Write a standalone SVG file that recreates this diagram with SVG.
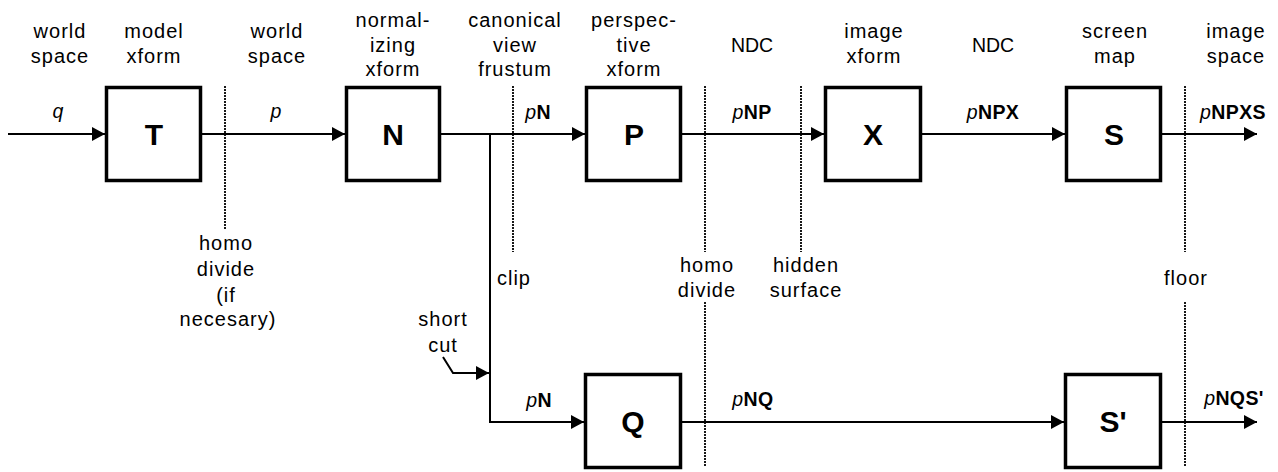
<svg xmlns="http://www.w3.org/2000/svg" width="1278" height="472" viewBox="0 0 1278 472">
<style>
text{font-family:"Liberation Sans",Arial,sans-serif;fill:#000}
.lbl{font-size:20px;letter-spacing:1px;text-anchor:middle}
.ndc{font-size:19.5px;text-anchor:middle}
.el{font-size:19.5px;letter-spacing:0.4px;text-anchor:middle}
.el .i{font-style:italic}
.el .b{font-weight:bold}
.box rect{fill:#fff;stroke:#000;stroke-width:3.5}
.box text{font-size:30px;font-weight:bold;text-anchor:middle}
.wire{fill:none;stroke:#000;stroke-width:2}
.dot{fill:none;stroke:#000;stroke-width:1.8;stroke-dasharray:2 1}
</style>
<defs>
<marker id="ah" markerUnits="userSpaceOnUse" markerWidth="13" markerHeight="14" refX="13" refY="7" orient="auto">
<path d="M0,0 L13,7 L0,14 z" fill="#000"/>
</marker>
</defs>

<g id="top-labels">
<text class="lbl" x="60" y="38">world</text><text class="lbl" x="60" y="63">space</text>
<text class="lbl" x="154" y="38">model</text><text class="lbl" x="154" y="63">xform</text>
<text class="lbl" x="277" y="38">world</text><text class="lbl" x="277" y="63">space</text>
<text class="lbl" x="393" y="27">normal-</text><text class="lbl" x="393" y="52">izing</text><text class="lbl" x="393" y="76">xform</text>
<text class="lbl" x="515" y="27">canonical</text><text class="lbl" x="515" y="52">view</text><text class="lbl" x="515" y="76">frustum</text>
<text class="lbl" x="634" y="27">perspec-</text><text class="lbl" x="634" y="52">tive</text><text class="lbl" x="634" y="76">xform</text>
<text class="ndc" x="752" y="52">NDC</text>
<text class="lbl" x="874" y="38">image</text><text class="lbl" x="874" y="63">xform</text>
<text class="ndc" x="993" y="52">NDC</text>
<text class="lbl" x="1115" y="38">screen</text><text class="lbl" x="1115" y="63">map</text>
<text class="lbl" x="1236" y="38">image</text><text class="lbl" x="1236" y="63">space</text>
</g>

<g id="dividers">
<path class="dot" d="M225,86 V230"/>
<path class="dot" d="M513,86 V252"/>
<path class="dot" d="M705,86 V252 M705,302 V467"/>
<path class="dot" d="M801,86 V252"/>
<path class="dot" d="M1185,86 V252 M1185,302 V467"/>
</g>

<g id="divider-labels">
<text class="lbl" x="226" y="250">homo</text><text class="lbl" x="226" y="276">divide</text><text class="lbl" x="226" y="302">(if</text><text class="lbl" x="228" y="326">necesary)</text>
<text class="lbl" x="514" y="285">clip</text>
<text class="lbl" x="707" y="272">homo</text><text class="lbl" x="707" y="297">divide</text>
<text class="lbl" x="806" y="272">hidden</text><text class="lbl" x="806" y="297">surface</text>
<text class="lbl" x="1186" y="285">floor</text>
<text class="lbl" x="443" y="326">short</text><text class="lbl" x="443" y="352">cut</text>
</g>

<g id="connectors">
<path class="wire" d="M8,134 H105" marker-end="url(#ah)"/>
<path class="wire" d="M202,134 H345" marker-end="url(#ah)"/>
<path class="wire" d="M441,134 H585" marker-end="url(#ah)"/>
<path class="wire" d="M682,134 H824" marker-end="url(#ah)"/>
<path class="wire" d="M922,134 H1065" marker-end="url(#ah)"/>
<path class="wire" d="M1162,134 H1257" marker-end="url(#ah)"/>
<path class="wire" d="M490,134 V422 H584" marker-end="url(#ah)"/>
<path class="wire" d="M682,422 H1064" marker-end="url(#ah)"/>
<path class="wire" d="M1162,422 H1257" marker-end="url(#ah)"/>
<path class="wire" d="M443,357 L453,373 H489" marker-end="url(#ah)"/>
</g>

<g id="edge-labels">
<text class="el" x="58" y="118"><tspan class="i">q</tspan></text>
<text class="el" x="276" y="118"><tspan class="i">p</tspan></text>
<text class="el" x="538" y="119"><tspan class="i">p</tspan><tspan class="b">N</tspan></text>
<text class="el" x="752" y="119"><tspan class="i">p</tspan><tspan class="b">NP</tspan></text>
<text class="el" x="993" y="119"><tspan class="i">p</tspan><tspan class="b">NPX</tspan></text>
<text class="el" x="1233" y="119"><tspan class="i">p</tspan><tspan class="b">NPXS</tspan></text>
<text class="el" x="539" y="407"><tspan class="i">p</tspan><tspan class="b">N</tspan></text>
<text class="el" x="753" y="406"><tspan class="i">p</tspan><tspan class="b">NQ</tspan></text>
<text class="el" x="1234" y="405"><tspan class="i">p</tspan><tspan class="b">NQS'</tspan></text>
</g>

<g id="node-T" class="box"><rect x="106.5" y="87.5" width="94" height="93"/><text x="154" y="145">T</text></g>
<g id="node-N" class="box"><rect x="346.5" y="87.5" width="93" height="93"/><text x="393" y="145">N</text></g>
<g id="node-P" class="box"><rect x="586.5" y="87.5" width="94" height="93"/><text x="634" y="145">P</text></g>
<g id="node-X" class="box"><rect x="825.5" y="87.5" width="95" height="93"/><text x="873" y="145">X</text></g>
<g id="node-S" class="box"><rect x="1066.5" y="87.5" width="94" height="93"/><text x="1114" y="145">S</text></g>
<g id="node-Q" class="box"><rect x="585.5" y="374.5" width="95" height="93"/><text x="633" y="432">Q</text></g>
<g id="node-S2" class="box"><rect x="1065.5" y="374.5" width="95" height="93"/><text x="1113" y="432">S'</text></g>
</svg>
